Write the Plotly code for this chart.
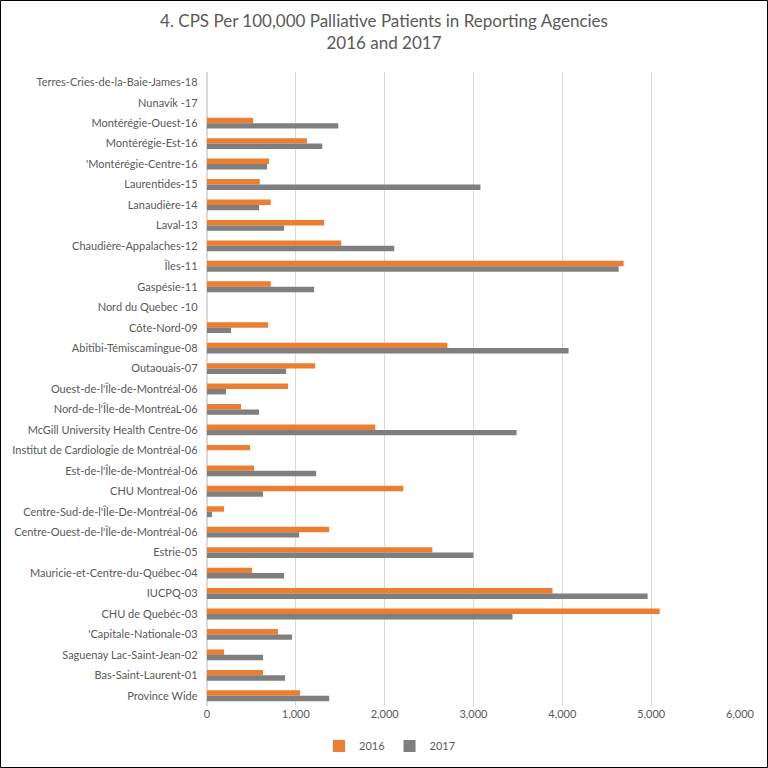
import plotly.graph_objects as go

categories = [
    "Terres-Cries-de-la-Baie-James-18",
    "Nunavik -17",
    "Montérégie-Ouest-16",
    "Montérégie-Est-16",
    "'Montérégie-Centre-16",
    "Laurentides-15",
    "Lanaudière-14",
    "Laval-13",
    "Chaudière-Appalaches-12",
    "Îles-11",
    "Gaspésie-11",
    "Nord du Quebec -10",
    "Côte-Nord-09",
    "Abitibi-Témiscamingue-08",
    "Outaouais-07",
    "Ouest-de-l'Île-de-Montréal-06",
    "Nord-de-l'Île-de-MontréaL-06",
    "McGill University Health Centre-06",
    "Institut de Cardiologie de Montréal-06",
    "Est-de-l'Île-de-Montréal-06",
    "CHU Montreal-06",
    "Centre-Sud-de-l'Île-De-Montréal-06",
    "Centre-Ouest-de-l'Île-de-Montréal-06",
    "Estrie-05",
    "Mauricie-et-Centre-du-Québec-04",
    "IUCPQ-03",
    "CHU de Quebéc-03",
    "'Capitale-Nationale-03",
    "Saguenay Lac-Saint-Jean-02",
    "Bas-Saint-Laurent-01",
    "Province Wide",
]

values_2016 = [0, 0, 520, 1124, 699, 594, 718, 1319, 1511, 4690, 718, 0, 688, 2706,
               1218, 913, 383, 1894, 485, 530, 2210, 192, 1375, 2537, 507, 3889, 5096,
               800, 192, 631, 1048]
values_2017 = [0, 0, 1477, 1297, 676, 3078, 586, 868, 2108, 4634, 1206, 0, 271, 4070,
               891, 214, 586, 3484, 0, 1229, 631, 56, 1037, 2999, 868, 4960, 3439,
               958, 631, 879, 1375]

series_names = ["2016", "2017"]
colors = ["#ED7D31", "#7F7F7F"]
tick_vals = [0, 1000, 2000, 3000, 4000, 5000, 6000]

FONT = "Lato, 'Liberation Sans', Arial, sans-serif"
TXT = "#595959"

fig = go.Figure()
for name, vals, col in zip(series_names, [values_2016, values_2017], colors):
    fig.add_trace(go.Bar(y=categories, x=vals, name=name, orientation="h",
                         marker=dict(color=col, line=dict(width=0))))

W, H = 768, 768
L, R, T, B = 207, 28, 72, 62
pw, ph = W - L - R, H - T - B

fig.update_layout(
    width=W, height=H,
    margin=dict(l=L, r=R, t=T, b=B, autoexpand=False),
    paper_bgcolor="white", plot_bgcolor="white",
    barmode="group", bargap=0.47, bargroupgap=0,
    font=dict(family=FONT, color=TXT, size=11),
    title=dict(text="4. CPS Per 100,000 Palliative Patients in Reporting Agencies<br>2016 and 2017",
               x=0.5, xref="container", xanchor="center", y=1 - 27 / H, yanchor="middle",
               font=dict(family=FONT, size=17, color=TXT)),
    xaxis=dict(range=[0, 6000], tickvals=tick_vals, tickformat=",", showgrid=True,
               gridcolor="#D9D9D9", gridwidth=1, zeroline=True, zerolinecolor="#D9D9D9",
               showline=False, ticks="", tickfont=dict(size=11, color=TXT), automargin=False),
    yaxis=dict(autorange="reversed", showgrid=False, ticks="", showline=False,
               tickfont=dict(size=11, color=TXT), ticksuffix="   ", automargin=False),
    legend=dict(orientation="h", x=(390 - L) / pw, xanchor="center", y=-40 / ph, yanchor="middle",
                font=dict(size=11, color=TXT), itemwidth=30, traceorder="normal"),
    shapes=[dict(type="rect", xref="paper", yref="paper",
                 x0=-(L - 0.5) / pw, x1=1 + (R - 0.5) / pw,
                 y0=-(B - 0.5) / ph, y1=1 + (T - 0.5) / ph,
                 line=dict(color="#000000", width=1), fillcolor="rgba(0,0,0,0)", layer="above")],
)

fig.write_html("out.html", config={"displayModeBar": False},
               post_script="document.body.style.margin='0';document.body.style.overflow='hidden';")
